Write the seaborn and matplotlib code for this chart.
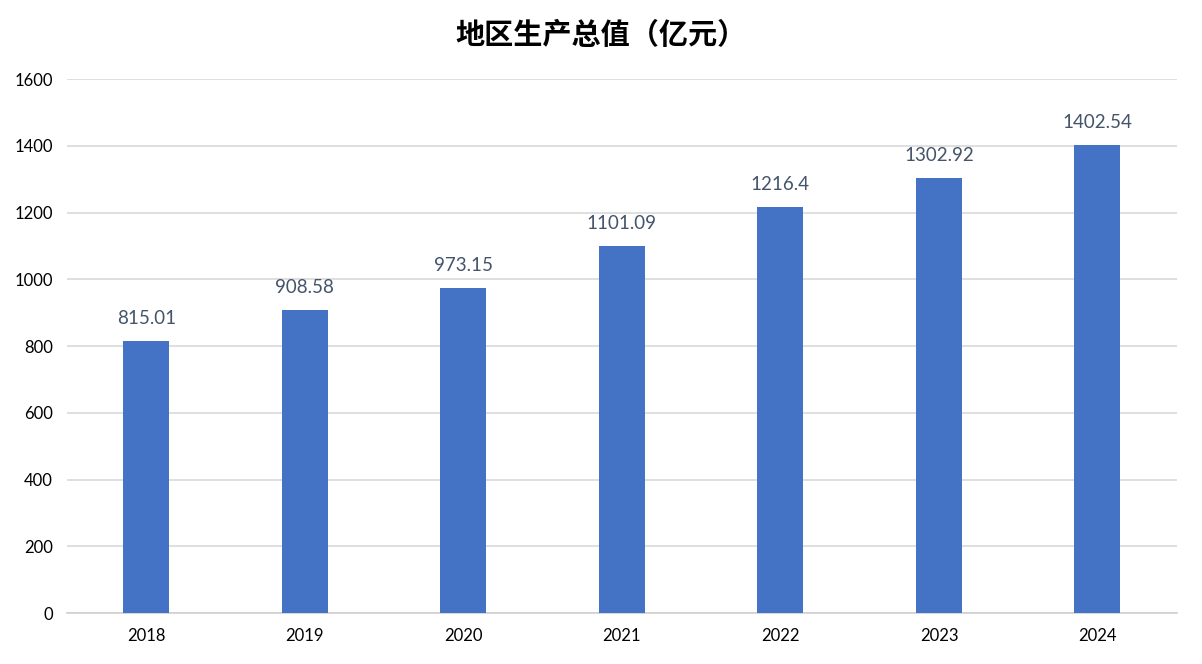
import pandas as pd
import seaborn as sns
import matplotlib.pyplot as plt

years = ['2018', '2019', '2020', '2021', '2022', '2023', '2024']
gdp = [815.01, 908.58, 973.15, 1101.09, 1216.4, 1302.92, 1402.54]
gdp_labels = ['815.01', '908.58', '973.15', '1101.09', '1216.4', '1302.92', '1402.54']

sns.set_theme(style='white')
plt.rcParams['font.family'] = ['Lato', 'Noto Sans CJK SC', 'DejaVu Sans']

df = pd.DataFrame({'year': years, 'gdp': gdp})

fig = plt.figure(figsize=(12.02, 6.64), dpi=100)
ax = fig.add_axes([0.0557, 0.0768, 0.9233, 0.8042])

sns.barplot(data=df, x='year', y='gdp', color='#4472C4', width=0.29,
            saturation=1, linewidth=0, ax=ax, zorder=3)

ax.set_ylim(0, 1600)
ax.set_yticks(range(0, 1601, 200))
ax.set_xlim(-0.5, len(years) - 0.5)
ax.yaxis.grid(True, color='#D9D9D9', linewidth=1.2, zorder=0)
ax.set_axisbelow(True)
for side in ['top', 'right', 'left']:
    ax.spines[side].set_visible(False)
ax.spines['bottom'].set_color('#D0D0D0')
ax.spines['bottom'].set_linewidth(1.2)
ax.tick_params(axis='both', length=0, labelsize=12, labelcolor='#000000')
ax.tick_params(axis='y', pad=10)
ax.tick_params(axis='x', pad=11)
ax.set_xlabel('')
ax.set_ylabel('')

ax.bar_label(ax.containers[0], labels=gdp_labels, padding=10,
             fontsize=13.5, color='#44546A')

fig.text(0.5, 0.948, '地区生产总值（亿元）', ha='center', va='center',
         fontsize=21, fontweight='bold', color='#000000',
         family=['Noto Sans CJK SC'])

fig.savefig('out.png', dpi=100)
